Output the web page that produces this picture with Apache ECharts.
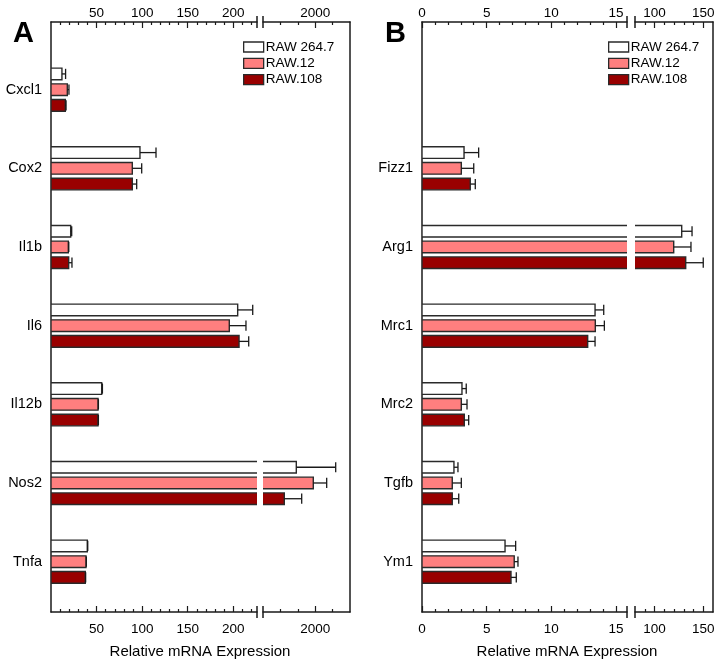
<!DOCTYPE html>
<html><head><meta charset="utf-8">
<script src="https://cdn.jsdelivr.net/npm/echarts@6/dist/echarts.min.js"></script>
<style>html,body{margin:0;padding:0;background:#fff}#c{width:726px;height:666px}</style>
</head><body><div id="c"></div>
<script>
// ---------- data ----------
const seriesNames = ['RAW 264.7', 'RAW.12', 'RAW.108'];
const seriesColors = ['#ffffff', '#ff7f7f', '#990000'];

const catsA = ['Cxcl1', 'Cox2', 'Il1b', 'Il6', 'Il12b', 'Nos2', 'Tnfa'];
const raw264A = [12, 97.6, 21.6, 204.8, 55.6, 1457, 39.8];
const raw264A_err = [4, 17.6, 1.1, 16.5, 0.8, 1132, 0.5];
const raw12A = [17.9, 89.2, 19, 195.6, 51.6, 1945, 38.4];
const raw12A_err = [1.8, 10.3, 0.5, 18.3, 0.4, 385, 0.4];
const raw108A = [15.7, 89.2, 19.4, 206.3, 51.6, 1112, 37.6];
const raw108A_err = [0.8, 4.8, 3.6, 10.6, 0.4, 500, 0.4];

const catsB = ['Fizz1', 'Arg1', 'Mrc1', 'Mrc2', 'Tgfb', 'Ym1'];
const raw264B = [3.25, 127.9, 13.38, 3.09, 2.47, 6.42];
const raw264B_err = [1.13, 10.6, 0.67, 0.33, 0.31, 0.82];
const raw12B = [3.04, 119.7, 13.4, 3.04, 2.34, 7.13];
const raw12B_err = [0.96, 17.7, 0.7, 0.44, 0.7, 0.29];
const raw108B = [3.73, 132, 12.81, 3.27, 2.34, 6.88];
const raw108B_err = [0.39, 18, 0.57, 0.34, 0.5, 0.41];

const ticksA_low = [50, 100, 150, 200];
const ticksA_high = [2000];
const ticksB_low = [0, 5, 10, 15];
const ticksB_high = [100, 150];

const axisName = 'Relative mRNA Expression';
const panelLetters = ['A', 'B'];

// ---------- layout / style ----------
const FONT = '"Liberation Sans", Arial, Helvetica, sans-serif';
const INK = '#1a1a1a';
const Y_MIN = -0.86, Y_MAX = 6.64;
const OFFSETS = [-0.2, 0, 0.2];
const BAR_H = 0.148;
const CAP_H = 0.13;

const panels = [
  { cats: catsA, slot0: 0,
    means: [raw264A, raw12A, raw108A], errs: [raw264A_err, raw12A_err, raw108A_err],
    segs: [
      { min: 0, max: 226, labels: ticksA_low, step: 10, grid: { left: 51, width: 206 } },
      { min: 500, max: 3000, labels: ticksA_high, step: 500, grid: { left: 263, width: 87 } }
    ],
    legendLeft: 243, letterX: 13, nameX: 200 },
  { cats: catsB, slot0: 1,
    means: [raw264B, raw12B, raw108B], errs: [raw264B_err, raw12B_err, raw108B_err],
    segs: [
      { min: 0, max: 15.85, labels: ticksB_low, step: 1, grid: { left: 422, width: 205 } },
      { min: 80, max: 160, labels: ticksB_high, step: 10, grid: { left: 635, width: 78 } }
    ],
    legendLeft: 608, letterX: 385, nameX: 567 }
];

function minorVals(seg) {
  const out = [];
  for (let k = 1; seg.min + k * seg.step < seg.max - 1e-9; k++) {
    const v = +(seg.min + k * seg.step).toFixed(6);
    if (seg.labels.indexOf(v) < 0) out.push(v);
  }
  return out;
}

const lineStyle = { color: INK, width: 1.5 };
const grids = [], xAxes = [], yAxes = [], series = [];

function barItem(off, color) {
  return function (params, api) {
    const y = api.value(0) + off, v = api.value(1);
    const a = api.coord([0, y - BAR_H / 2]);
    const b = api.coord([v, y + BAR_H / 2]);
    return { type: 'rect',
      shape: { x: a[0], y: a[1], width: b[0] - a[0], height: b[1] - a[1] },
      style: { fill: color, stroke: '#2a2a2a', lineWidth: 1.4 } };
  };
}
function errItem(off) {
  return function (params, api) {
    const y = api.value(0) + off, v = api.value(1), e = api.value(2);
    const a = api.coord([v, y]), b = api.coord([v + e, y]);
    const t = api.coord([v + e, y - CAP_H / 2]), u = api.coord([v + e, y + CAP_H / 2]);
    const st = { stroke: INK, lineWidth: 1.3 };
    return { type: 'group', children: [
      { type: 'line', shape: { x1: a[0], y1: a[1], x2: b[0], y2: b[1] }, style: st },
      { type: 'line', shape: { x1: t[0], y1: t[1], x2: u[0], y2: u[1] }, style: st }
    ] };
  };
}
function breakItem(side) {
  return function (params) {
    const cs = params.coordSys;
    const x = side === 'right' ? cs.x + cs.width : cs.x;
    const st = { stroke: INK, lineWidth: 1.5 };
    return { type: 'group', children: [
      { type: 'line', shape: { x1: x, y1: cs.y - 6, x2: x, y2: cs.y + 6 }, style: st },
      { type: 'line', shape: { x1: x, y1: cs.y + cs.height - 6, x2: x, y2: cs.y + cs.height + 6 }, style: st }
    ] };
  };
}

panels.forEach((p, pi) => {
  p.segs.forEach((seg, si) => {
    const gi = grids.length;
    grids.push({ left: seg.grid.left, width: seg.grid.width, top: 22, height: 590, containLabel: false });
    const xBase = xAxes.length;
    ['top', 'bottom'].forEach(pos => {
      xAxes.push({ type: 'value', gridIndex: gi, position: pos, min: seg.min, max: seg.max,
        axisLine: { show: true, onZero: false, lineStyle },
        axisTick: { show: true, inside: true, length: 6, customValues: seg.labels, lineStyle: { color: INK, width: 1.2 } },
        axisLabel: { show: true, customValues: seg.labels, margin: pos === 'top' ? 2 : 10,
          fontSize: 13.5, fontFamily: FONT, color: '#000', formatter: v => String(v) },
        splitLine: { show: false } });
      xAxes.push({ type: 'value', gridIndex: gi, position: pos, min: seg.min, max: seg.max,
        axisLine: { show: false, onZero: false },
        axisTick: { show: true, inside: true, length: 3, customValues: minorVals(seg), lineStyle: { color: INK, width: 1.2 } },
        axisLabel: { show: false }, splitLine: { show: false } });
    });
    const yi = yAxes.length;
    const slots = p.cats.map((c, i) => i + p.slot0);
    yAxes.push({ type: 'value', gridIndex: gi, inverse: true, min: Y_MIN, max: Y_MAX,
      position: si === 0 ? 'left' : 'right',
      axisLine: { show: true, onZero: false, lineStyle },
      axisTick: { show: false },
      axisLabel: { show: si === 0, customValues: slots, margin: 9, fontSize: 14.5, fontFamily: FONT, color: '#000',
        formatter: v => p.cats[Math.round(v) - p.slot0] },
      splitLine: { show: false } });

    for (let g = 0; g < 3; g++) {
      const data = p.means[g].map((m, i) => [i + p.slot0, m, p.errs[g][i]]);
      series.push({ type: 'custom', name: seriesNames[g], xAxisIndex: xBase + 2, yAxisIndex: yi,
        clip: true, silent: true, encode: { x: 1, y: 0 }, data,
        itemStyle: { color: seriesColors[g], borderColor: '#2a2a2a', borderWidth: 1.3 },
        renderItem: barItem(OFFSETS[g], seriesColors[g]), z: 2 });
      series.push({ type: 'custom', name: 'err' + g, xAxisIndex: xBase + 2, yAxisIndex: yi,
        clip: true, silent: true, encode: { x: 1, y: 0 }, data,
        renderItem: errItem(OFFSETS[g]), z: 3 });
    }
    series.push({ type: 'custom', name: 'break', xAxisIndex: xBase + 2, yAxisIndex: yi, clip: false, silent: true,
      data: [[seg.min, 0]], encode: { x: 0, y: 1 }, renderItem: breakItem(si === 0 ? 'right' : 'left'), z: 5 });
  });
});

const legends = panels.map(p => ({
  left: p.legendLeft, top: 39, orient: 'vertical', padding: 0, itemGap: 0.3,
  itemWidth: 20, itemHeight: 10, icon: 'rect', selectedMode: false,
  itemStyle: { borderColor: '#2a2a2a', borderWidth: 1.3 },
  textStyle: { fontSize: 13.5, lineHeight: 16, fontFamily: FONT, color: '#000', padding: [0, 0, 0, -3] },
  data: seriesNames
}));

const graphic = [];
panels.forEach((p, pi) => {
  graphic.push({ type: 'text', left: p.letterX, top: 19,
    style: { text: panelLetters[pi], font: 'bold 29px ' + FONT, fill: '#000' } });
  graphic.push({ type: 'text', x: p.nameX, y: 652,
    style: { text: axisName, font: '15px ' + FONT, fill: '#000', align: 'center', verticalAlign: 'middle' } });
});

const chart = echarts.init(document.getElementById('c'), null, { renderer: 'canvas' });
chart.setOption({
  animation: false,
  backgroundColor: '#fff',
  grid: grids, xAxis: xAxes, yAxis: yAxes,
  legend: legends, series, graphic
});
</script></body></html>
